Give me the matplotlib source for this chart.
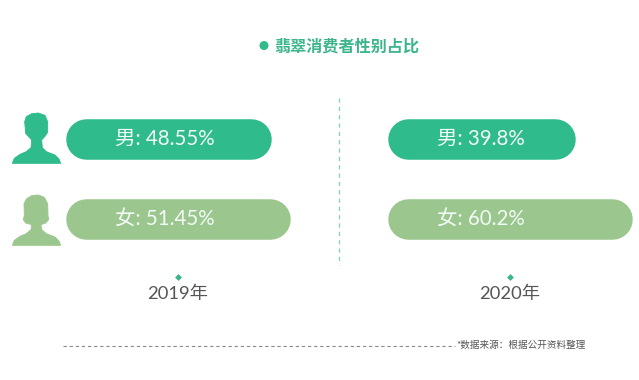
import matplotlib
matplotlib.use('Agg')
import matplotlib.pyplot as plt
from matplotlib.patches import Polygon, Circle

plt.rcParams['font.family'] = ['Lato', 'Noto Sans CJK SC', 'DejaVu Sans']

# data
years = ['2019年', '2020年']
genders = ['男', '女']
share_2019 = ['48.55%', '51.45%']
share_2020 = ['39.8%', '60.2%']
# drawn bar lengths (the original is not to scale)
bar_len_2019 = [205, 224]
bar_len_2020 = [188, 245]

GREEN = '#2fbb8c'
LIGHT = '#9bc68d'
title_text = '翡翠消费者性别占比'
source_text = '*数据来源：根据公开资料整理'

fig = plt.figure(figsize=(6.39, 3.8), dpi=100)
ax = fig.add_axes([0, 0, 1, 1])
ax.set_xlim(0, 639)
ax.set_ylim(380, 0)
ax.axis('off')


def pill(x, y, length, color, text_x, label):
    # a thick line with round caps gives a true half circle at each end
    h = 40.5
    r = h / 2
    ax.plot([x + r, x + length - r], [y + r, y + r], color=color, lw=h * 0.72, solid_capstyle='round')
    ax.text(text_x, y + r + 0.5, label, color='#f2fbf6', fontsize=14.8, ha='center', va='center')


def icon(pts, x0, y0, color):
    ax.add_patch(Polygon([(x0 + a / 3, y0 + b / 3) for a, b in pts], fc=color, ec=color, lw=0.6, joinstyle='round'))


male_pts = [(22, 175), (28, 160), (45, 148), (64, 140), (78, 128), (80, 105), (70, 94), (62, 85),
            (59, 50), (64, 35), (80, 26), (100, 24), (120, 31), (128, 50), (128, 82), (120, 94),
            (110, 105), (112, 128), (124, 140), (150, 150), (162, 162), (167, 175)]
female_pts = [(22, 175), (28, 160), (45, 148), (64, 140), (78, 128), (80, 113), (62, 108), (55, 98),
              (58, 85), (57, 50), (65, 35), (80, 26), (100, 24), (118, 31), (128, 50), (129, 85),
              (131, 98), (122, 108), (108, 113), (110, 128), (124, 140), (150, 150), (162, 162), (167, 175)]
icon(male_pts, 5, 105, GREEN)
icon(female_pts, 5, 187, LIGHT)

# title
ax.add_patch(Circle((264, 45.5), 4.5, fc=GREEN, lw=0))
ax.text(274, 47, title_text, color='#3db58c', fontsize=11.6, fontweight='bold', ha='left', va='center')

# bars
colors = [GREEN, LIGHT]
rows = [118.5, 199]
for i in range(2):
    pill(66, rows[i], bar_len_2019[i], colors[i], 165, f'{genders[i]}: {share_2019[i]}')
    pill(387.5, rows[i], bar_len_2020[i], colors[i], 481, f'{genders[i]}: {share_2020[i]}')

# divider
ax.plot([339, 339], [98, 265], color='#8fd0c4', lw=1, dashes=(3, 3))

# year labels and their little markers
for x, year in zip([178, 510], years):
    ax.plot([x], [277], marker='D', ms=3.5, color='#3db58c', mew=0)
    ax.text(x, 294, year, color='#555555', fontsize=13.2, ha='center', va='center')

# footer
ax.plot([63, 455], [346, 346], color='#8a8a8a', lw=0.8, dashes=(3, 2.5))
ax.text(456, 345.5, source_text, color='#555555', fontsize=6.9, fontweight='medium', ha='left', va='center')

fig.savefig('out.png', dpi=100, facecolor='white')
